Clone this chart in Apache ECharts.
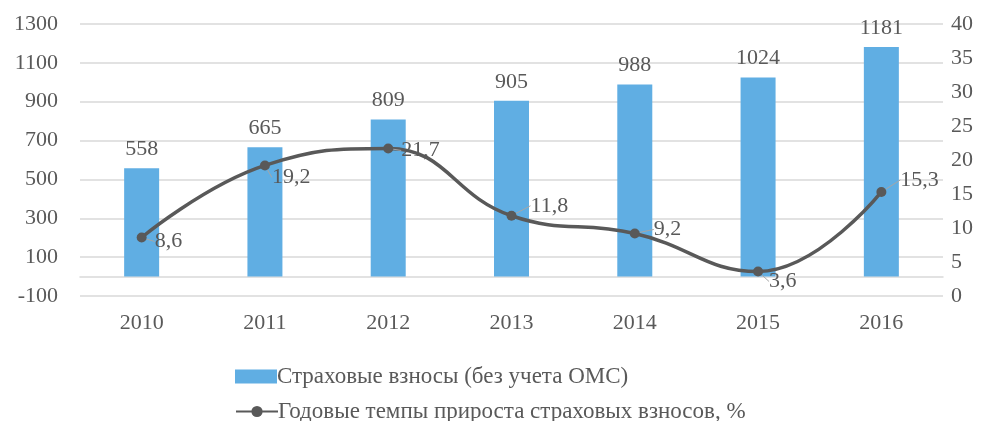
<!DOCTYPE html>
<html>
<head>
<meta charset="utf-8">
<script src="https://cdn.jsdelivr.net/npm/echarts@6/dist/echarts.min.js"></script>
<style>
  html, body { margin: 0; padding: 0; background: #fff; }
  #chart { width: 989px; height: 421px; }
</style>
</head>
<body>
<div id="chart"></div>
<script>
// Years on the category axis
const years = ['2010', '2011', '2012', '2013', '2014', '2015', '2016'];
// Insurance contributions (excluding compulsory medical insurance)
const contributions = [558, 665, 809, 905, 988, 1024, 1181];
// Annual growth rate of contributions, %
const growthRates = [8.6, 19.2, 21.7, 11.8, 9.2, 3.6, 15.3];

const barName = 'Страховые взносы (без учета ОМС)';
const lineName = 'Годовые темпы прироста страховых взносов, %';

// Per-point label shifts (some labels sit above-right with a short leader)
const labelShift = [
  { dx: 0, dy: 4 },
  { dx: -6, dy: 12 },
  { dx: 0, dy: 2 },
  { dx: 6, dy: -10 },
  { dx: 6, dy: -4 },
  { dx: -2, dy: 10 },
  { dx: 6, dy: -12 }
];

const textColor = '#595959';
const font = 'Liberation Serif, Times New Roman, serif';
const fs = 22;

const legendText = { fontFamily: font, fontSize: 23, color: textColor, padding: [0, 0, 0, -5] };

const chart = echarts.init(document.getElementById('chart'));
chart.setOption({
  animation: false,
  textStyle: { fontFamily: font },
  grid: { left: 80, right: 46, top: 24, bottom: 125, containLabel: false },
  legend: [
    {
      left: 230,
      top: 360,
      itemWidth: 42,
      itemHeight: 14,
      textStyle: legendText,
      data: [{ name: barName, icon: 'rect' }]
    },
    {
      left: 230,
      top: 395,
      itemWidth: 42,
      itemHeight: 14,
      textStyle: legendText,
      data: [{ name: lineName }]
    }
  ],
  xAxis: {
    type: 'category',
    data: years,
    axisLine: { lineStyle: { color: '#D9D9D9', width: 1.5 } },
    axisTick: { show: false },
    axisLabel: { color: textColor, fontSize: fs, fontFamily: font, margin: 16 }
  },
  yAxis: [
    {
      type: 'value',
      min: -100,
      max: 1300,
      interval: 200,
      axisLine: { show: false },
      axisTick: { show: false },
      axisLabel: { color: textColor, fontSize: fs, fontFamily: font, margin: 22, formatter: v => String(v) },
      splitLine: { lineStyle: { color: '#D9D9D9', width: 1.5 } }
    },
    {
      type: 'value',
      min: 0,
      max: 40,
      interval: 5,
      axisLine: { show: false },
      axisTick: { show: false },
      axisLabel: { color: textColor, fontSize: fs, fontFamily: font, margin: 8 },
      splitLine: { show: false }
    }
  ],
  series: [
    {
      name: barName,
      type: 'bar',
      yAxisIndex: 0,
      data: contributions,
      barWidth: 35,
      itemStyle: { color: '#60AEE3' },
      label: {
        show: true,
        position: 'top',
        distance: 8,
        color: textColor,
        fontSize: fs,
        fontFamily: font
      }
    },
    {
      name: lineName,
      type: 'line',
      yAxisIndex: 1,
      data: growthRates,
      smooth: 0.45,
      symbol: 'circle',
      symbolSize: 10,
      lineStyle: { color: '#595959', width: 3.5 },
      itemStyle: { color: '#595959' },
      label: {
        show: true,
        position: 'right',
        distance: 8,
        color: textColor,
        fontSize: fs,
        fontFamily: font,
        formatter: p => String(p.value).replace('.', ',')
      },
      labelLine: { show: true, lineStyle: { color: '#A6A6A6', width: 1 } },
      labelLayout: p => labelShift[p.dataIndex]
    }
  ]
});
</script>
</body>
</html>
